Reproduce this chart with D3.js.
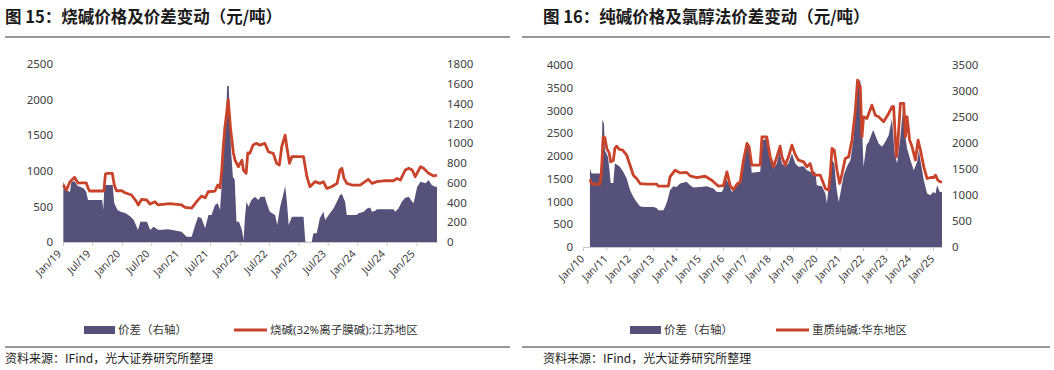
<!DOCTYPE html>
<html>
<head>
<meta charset="utf-8">
<script src="https://cdn.jsdelivr.net/npm/d3@7"></script>
<style>
body { margin: 0; background: #fff; }
svg text { font-family: "Noto Sans", "Noto Sans CJK SC", sans-serif; }
.cjk { font-family: "Noto Sans CJK SC", sans-serif; }
</style>
</head>
<body>
<svg id="chart" width="1054" height="370"></svg>
<script>
// ---- 图15 烧碱价格 (left axis) and 价差 (right axis) ----
var dates15Price = [
  "2019-01-03","2019-01-23","2019-02-13","2019-03-14","2019-04-04","2019-04-25","2019-05-25","2019-06-06","2019-06-15","2019-09-06",
  "2019-09-12","2019-09-21","2019-10-03","2019-11-03","2019-11-15","2019-11-29","2020-01-01","2020-01-20","2020-03-01","2020-04-01",
  "2020-04-12","2020-05-03","2020-06-03","2020-06-24","2020-07-24","2020-08-14","2020-10-24","2021-01-06","2021-01-27","2021-03-09",
  "2021-04-09","2021-05-09","2021-06-01","2021-06-20","2021-08-01","2021-08-18","2021-09-01","2021-09-12","2021-09-21","2021-10-02",
  "2021-10-22","2021-11-05","2021-11-23","2021-12-03","2021-12-24","2022-01-03","2022-01-15","2022-01-24","2022-02-10","2022-02-20",
  "2022-03-05","2022-03-25","2022-04-15","2022-05-05","2022-06-06","2022-06-28","2022-07-28","2022-08-18","2022-09-04","2022-09-19",
  "2022-10-10","2022-10-20","2022-11-06","2022-11-21","2023-02-01","2023-02-22","2023-03-13","2023-04-13","2023-05-13","2023-06-04",
  "2023-06-25","2023-07-25","2023-08-28","2023-09-15","2023-09-27","2023-10-10","2023-10-28","2023-11-28","2024-01-18","2024-02-18",
  "2024-03-09","2024-04-01","2024-05-01","2024-06-12","2024-08-12","2024-09-03","2024-09-24","2024-10-24","2024-11-15","2024-12-06",
  "2024-12-25","2025-01-27","2025-02-15","2025-03-18","2025-04-18","2025-05-09"
];
var price15 = [
  800,730,847,908,828,830,830,758,716,716,
  720,955,965,965,800,720,720,692,660,566,
  520,600,590,533,566,520,540,520,487,475,
  566,645,620,706,716,800,760,1010,1338,1619,
  2000,1600,1250,1150,1057,1100,1150,1011,964,1250,
  1245,1362,1386,1360,1386,1268,1245,1105,1082,1338,
  1502,1338,1105,1198,1198,917,776,847,823,847,
  753,776,823,1011,1035,893,823,800,800,847,
  880,823,847,860,860,893,870,1011,1035,1011,
  917,1058,1035,964,927,940
];
var dates15Spread = [
  "2019-01-03","2019-01-23","2019-02-13","2019-02-22","2019-03-14","2019-04-01","2019-04-20","2019-05-10","2019-05-25","2019-06-05",
  "2019-09-01","2019-09-08","2019-09-15","2019-11-05","2019-11-15","2019-12-05","2019-12-25","2020-01-25","2020-02-25","2020-03-15",
  "2020-04-10","2020-04-25","2020-06-05","2020-06-25","2020-07-15","2020-08-15","2020-10-15","2021-01-06","2021-02-06","2021-03-09",
  "2021-03-28","2021-04-18","2021-05-09","2021-06-01","2021-06-21","2021-07-10","2021-08-01","2021-08-18","2021-09-01","2021-09-12",
  "2021-09-18","2021-09-25","2021-10-08","2021-10-15","2021-10-25","2021-11-08","2021-11-20","2021-12-01","2021-12-12","2021-12-28",
  "2022-01-15","2022-01-25","2022-02-03","2022-02-12","2022-02-25","2022-03-15","2022-04-06","2022-04-27","2022-05-10","2022-06-06",
  "2022-06-18","2022-07-07","2022-08-09","2022-08-22","2022-09-09","2022-09-25","2022-10-10","2022-10-20","2022-11-01","2022-11-21",
  "2023-02-01","2023-02-12","2023-03-24","2023-04-03","2023-04-24","2023-05-13","2023-06-04","2023-06-15","2023-07-15","2023-08-06",
  "2023-08-27","2023-09-15","2023-09-27","2023-10-17","2023-10-27","2023-12-28","2024-01-09","2024-02-09","2024-03-01","2024-03-20",
  "2024-04-01","2024-04-21","2024-05-01","2024-08-12","2024-08-23","2024-09-12","2024-10-03","2024-10-24","2024-11-15","2024-12-06",
  "2024-12-15","2025-01-06","2025-01-27","2025-02-27","2025-03-18","2025-04-06","2025-04-27","2025-05-09"
];
var spread15 = [
  610,525,505,610,615,570,555,540,508,425,
  425,323,576,576,391,323,307,290,256,222,
  121,205,205,121,155,121,128,104,54,54,
  155,256,239,138,273,273,374,391,323,593,
  900,1170,1180,1577,1577,930,660,630,205,205,
  121,20,256,407,357,424,458,424,458,458,
  391,306,273,172,357,458,566,424,172,256,
  256,3,0,88,88,239,306,222,290,340,
  407,475,485,407,273,273,290,306,340,350,
  306,317,330,330,306,340,407,448,458,407,
  391,559,610,593,627,576,559,559
];
var ticks15 = ["2019-01-01","2019-07-01","2020-01-01","2020-07-01","2021-01-01","2021-07-01","2022-01-01",
  "2022-07-01","2023-01-01","2023-07-01","2024-01-01","2024-07-01","2025-01-01"];
var leftTicks15 = [0, 500, 1000, 1500, 2000, 2500];
var rightTicks15 = [0, 200, 400, 600, 800, 1000, 1200, 1400, 1600, 1800];

// ---- 图16 重质纯碱价格 (left axis) and 氯醇法价差 (right axis) ----
var dates16Price = [
  "2010-04-20","2010-05-15","2010-06-05","2010-09-24","2010-10-18","2010-11-13","2010-12-10","2011-01-08","2011-02-17","2011-03-10",
  "2011-04-20","2011-05-15","2011-06-12","2011-07-23","2011-09-14","2011-11-16","2012-01-08","2012-02-28","2012-04-20","2012-06-12",
  "2012-09-24","2013-02-28","2013-03-25","2013-08-29","2013-09-24","2013-12-13","2014-03-01","2014-06-12","2014-08-04","2014-11-16",
  "2015-03-28","2015-07-10","2015-10-22","2016-01-08","2016-03-03","2016-04-23","2016-06-14","2016-08-07","2016-09-27","2016-11-17",
  "2017-01-11","2017-02-14","2017-03-27","2017-08-06","2017-09-02","2017-11-16","2018-01-10","2018-03-04","2018-04-23","2018-06-14",
  "2018-07-12","2018-09-02","2018-10-23","2018-12-16","2019-02-06","2019-03-28","2019-06-17","2019-08-07","2019-09-27","2019-11-09",
  "2019-12-16","2020-03-04","2020-05-22","2020-07-13","2020-08-08","2020-09-03","2020-10-09","2020-11-20","2021-01-01","2021-02-08",
  "2021-03-29","2021-05-21","2021-07-13","2021-09-04","2021-10-08","2021-11-20","2021-12-16","2022-01-10","2022-03-04","2022-05-21",
  "2022-07-13","2022-09-03","2022-11-20","2023-02-07","2023-03-31","2023-04-26","2023-06-07","2023-06-27","2023-08-10","2023-10-01",
  "2023-10-27","2023-11-22","2024-01-01","2024-02-09","2024-04-01","2024-05-12","2024-06-18","2024-08-10","2024-10-01","2024-11-22",
  "2025-01-12","2025-02-09","2025-03-17","2025-04-26","2025-05-22"
];
var price16 = [
  1483,1395,1380,1380,1688,2421,2400,2166,2056,1871,
  1900,2166,2216,2144,2130,2018,1798,1578,1505,1395,
  1380,1380,1336,1336,1541,1688,1629,1640,1563,1527,
  1555,1468,1336,1350,1651,1350,1263,1380,1430,1908,
  2275,2200,1800,1800,2421,2421,1981,1761,1981,2216,
  1981,1798,1981,2238,2030,1908,1871,1761,1835,1615,
  1578,1578,1285,1248,1615,2166,2130,1688,1395,1615,
  1945,1981,2348,3009,3669,3520,2421,2862,2825,3119,
  2898,2862,2751,2935,3082,3082,1981,2200,3156,3156,
  2421,2862,2348,2201,1908,2348,2130,1761,1505,1527,
  1527,1578,1468,1430,1430
];
var dates16Spread = [
  "2010-04-20","2010-05-15","2010-09-24","2010-10-18","2010-11-01","2010-11-25","2010-12-10","2011-01-27","2011-02-20","2011-03-10",
  "2011-04-20","2011-05-15","2011-07-01","2011-08-01","2011-09-23","2011-11-16","2012-01-08","2012-02-28","2012-04-20","2012-06-12",
  "2012-08-02","2013-01-05","2013-02-28","2013-03-25","2013-06-12","2013-07-08","2013-08-16","2013-09-24","2013-11-15","2014-01-05",
  "2014-03-01","2014-06-12","2014-08-04","2014-09-24","2015-01-08","2015-04-23","2015-08-05","2015-09-27","2015-12-16","2016-01-08",
  "2016-02-18","2016-03-28","2016-05-19","2016-07-10","2016-09-16","2016-11-17","2017-01-11","2017-02-14","2017-03-27","2017-08-06",
  "2017-09-17","2017-11-16","2018-01-10","2018-03-04","2018-04-23","2018-06-04","2018-07-12","2018-09-02","2018-10-23","2018-12-16",
  "2019-02-06","2019-03-28","2019-06-17","2019-08-07","2019-09-27","2019-12-16","2020-01-10","2020-03-29","2020-05-22","2020-06-15",
  "2020-08-08","2020-09-03","2020-10-09","2020-11-10","2020-12-16","2021-01-12","2021-03-05","2021-04-27","2021-06-19","2021-08-10",
  "2021-10-02","2021-11-20","2021-12-16","2022-01-10","2022-02-23","2022-04-01","2022-06-09","2022-07-13","2022-09-03","2022-10-26",
  "2022-12-16","2023-02-07","2023-03-31","2023-05-12","2023-06-19","2023-08-10","2023-09-22","2023-10-27","2023-11-22","2024-01-14",
  "2024-03-06","2024-04-28","2024-05-23","2024-06-18","2024-08-10","2024-10-01","2024-11-22","2025-01-04","2025-02-09","2025-03-07",
  "2025-04-17","2025-05-22"
];
var spread16 = [
  1510,1413,1413,1670,2454,2377,1862,1733,1477,1233,
  1233,1606,1574,1542,1445,1317,1092,963,867,784,
  771,771,750,707,707,771,899,1092,1169,1156,
  1221,1253,1189,1144,1156,1169,1125,1060,1060,1125,
  1317,1221,1060,1125,1221,1670,2022,1926,1426,1445,
  2055,2087,1670,1510,1606,1830,1606,1542,1606,1798,
  1606,1542,1555,1477,1445,1445,1189,1169,1028,835,
  1477,1670,1606,1156,867,1028,1381,1555,1670,2119,
  3147,3211,2312,1542,1959,2022,2248,2151,1991,1926,
  2022,2151,2473,1798,1606,2119,2697,2119,1895,1670,
  1477,1638,1862,1670,1285,1028,996,1060,1028,1189,
  1060,1060
];
var ticks16 = ["2010-01-01","2011-01-01","2012-01-01","2013-01-01","2014-01-01","2015-01-01","2016-01-01","2017-01-01",
  "2018-01-01","2019-01-01","2020-01-01","2021-01-01","2022-01-01","2023-01-01","2024-01-01","2025-01-01"];
var leftTicks16 = [0, 500, 1000, 1500, 2000, 2500, 3000, 3500, 4000];
var rightTicks16 = [0, 500, 1000, 1500, 2000, 2500, 3000, 3500];

var areaColor = "#56517a";
var lineColor = "#c9432a";
var parse = d3.timeParse("%Y-%m-%d");
var fmt = d3.timeFormat("%b/%y");
var svg = d3.select("#chart");

var drawPanel = function(p) {
  var priceData = p.priceDates.map(function(d, i) { return { date: parse(d), v: p.price[i] }; });
  var spreadData = p.spreadDates.map(function(d, i) { return { date: parse(d), v: p.spread[i] }; });

  var x = d3.scaleTime()
    .domain([parse(p.ticks[0]), d3.max(priceData, function(d) { return d.date; })])
    .range([p.x0, p.x1]);
  var yL = d3.scaleLinear().domain([0, d3.max(p.leftTicks)]).range([p.y0, p.y1]);
  var yR = d3.scaleLinear().domain([0, d3.max(p.rightTicks)]).range([p.y0, p.y1]);

  var g = svg.append("g");

  g.append("path")
    .datum(spreadData)
    .attr("fill", areaColor)
    .attr("d", d3.area()
      .x(function(d) { return x(d.date); })
      .y0(p.y0)
      .y1(function(d) { return yR(d.v); }));

  var xAxis = d3.axisBottom(x)
    .tickValues(p.ticks.map(parse))
    .tickFormat(fmt)
    .tickSizeInner(4)
    .tickSizeOuter(0);
  var gx = g.append("g")
    .attr("transform", "translate(0," + p.y0 + ")")
    .call(xAxis);
  gx.selectAll("path, line").attr("stroke", "#c8c8c8");
  gx.selectAll("text")
    .attr("fill", "#404040")
    .style("font-size", "10.5px")
    .attr("text-anchor", "end")
    .attr("x", 0).attr("y", 0).attr("dy", "0.35em")
    .attr("transform", "translate(" + p.labelDx + ",10) rotate(-45)");

  g.append("path")
    .datum(priceData)
    .attr("fill", "none")
    .attr("stroke", lineColor)
    .attr("stroke-width", 2.8)
    .attr("stroke-linejoin", "round")
    .attr("d", d3.line()
      .x(function(d) { return x(d.date); })
      .y(function(d) { return yL(d.v); }));

  var gl = g.append("g")
    .attr("transform", "translate(" + p.x0 + ",0)")
    .call(d3.axisLeft(yL).tickValues(p.leftTicks).tickFormat(d3.format("d")).tickSize(0).tickPadding(10));
  var gr = g.append("g")
    .attr("transform", "translate(" + p.x1 + ",0)")
    .call(d3.axisRight(yR).tickValues(p.rightTicks).tickFormat(d3.format("d")).tickSize(0).tickPadding(10));
  [gl, gr].forEach(function(a) {
    a.select(".domain").remove();
    a.selectAll("text").attr("fill", "#404040").style("font-size", "11.5px");
  });

  // title and rules
  g.append("text")
    .attr("class", "cjk")
    .attr("x", p.titleX).attr("y", 23)
    .style("font-size", "16.5px")
    .style("font-weight", "bold")
    .attr("fill", "#1a1a1a")
    .text(p.title);
  [37, 347].forEach(function(yy) {
    g.append("line")
      .attr("x1", p.ruleX0).attr("x2", p.ruleX1)
      .attr("y1", yy).attr("y2", yy)
      .attr("stroke", "#333").attr("stroke-width", 1.2);
  });
  g.append("text")
    .attr("class", "cjk")
    .attr("x", p.titleX).attr("y", 363)
    .style("font-size", "12px")
    .attr("fill", "#1a1a1a")
    .text("资料来源：IFind，光大证券研究所整理");

  // legend
  var lg = g.append("g").attr("class", "cjk");
  lg.append("rect")
    .attr("x", p.legX).attr("y", 326).attr("width", 31).attr("height", 8)
    .attr("fill", areaColor);
  lg.append("text")
    .attr("x", p.legX + 34).attr("y", 334)
    .style("font-size", "11.5px").attr("fill", "#333")
    .text(p.spreadName);
  lg.append("line")
    .attr("x1", p.legX2).attr("x2", p.legX2 + 33)
    .attr("y1", 330).attr("y2", 330)
    .attr("stroke", lineColor).attr("stroke-width", 3);
  lg.append("text")
    .attr("x", p.legX2 + 36).attr("y", 334)
    .style("font-size", "11.5px").attr("fill", "#333")
    .text(p.priceName);
};

drawPanel({
  title: "图 15：烧碱价格及价差变动（元/吨）",
  priceDates: dates15Price, price: price15,
  spreadDates: dates15Spread, spread: spread15,
  ticks: ticks15, leftTicks: leftTicks15, rightTicks: rightTicks15,
  x0: 63, x1: 437, y0: 242, y1: 64, labelDx: -4,
  titleX: 5, ruleX0: 5, ruleX1: 510,
  legX: 84, legX2: 234,
  spreadName: "价差（右轴）", priceName: "烧碱(32%离子膜碱):江苏地区"
});

drawPanel({
  title: "图 16：纯碱价格及氯醇法价差变动（元/吨）",
  priceDates: dates16Price, price: price16,
  spreadDates: dates16Spread, spread: spread16,
  ticks: ticks16, leftTicks: leftTicks16, rightTicks: rightTicks16,
  x0: 583, x1: 942, y0: 247, y1: 65, labelDx: -1,
  titleX: 543, ruleX0: 522, ruleX1: 1050,
  legX: 630, legX2: 776,
  spreadName: "价差（右轴）", priceName: "重质纯碱:华东地区"
});
</script>
</body>
</html>
